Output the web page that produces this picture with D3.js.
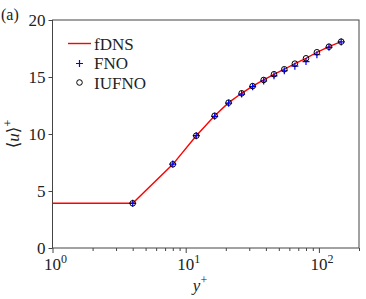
<!DOCTYPE html>
<html><head><meta charset="utf-8">
<script src="https://cdn.jsdelivr.net/npm/d3@7"></script>
<style>body{margin:0;background:#fff}svg{display:block}text{font-family:"Liberation Serif","DejaVu Serif",serif;fill:#222}</style>
</head><body><svg id="c" width="366" height="299"></svg>
<script>
const yplus = [4, 8, 12, 16.5, 21, 26.3, 31.8, 38.5, 46, 55, 66, 80, 96.6, 119, 147];
const fDNS  = [3.92, 7.34, 9.85, 11.6, 12.75, 13.57, 14.2, 14.74, 15.24, 15.68, 16.17, 16.64, 17.17, 17.66, 18.1];
const FNO   = [3.92, 7.36, 9.85, 11.55, 12.7, 13.5, 14.15, 14.65, 15.1, 15.55, 15.95, 16.35, 16.95, 17.6, 18.08];
const IUFNO = [3.92, 7.34, 9.85, 11.6, 12.75, 13.57, 14.2, 14.74, 15.24, 15.68, 16.17, 16.64, 17.17, 17.66, 18.1];
const lineX = [1].concat(yplus);
const lineY = [3.92].concat(fDNS);
const yTicks = [0, 5, 10, 15, 20];
const xMajor = [1, 10, 100];
const legendLabels = ["fDNS", "FNO", "IUFNO"];

const svg = d3.select("#c");
const L = 52.5, R = 359, T = 20, B = 248;
const x = d3.scaleLog().domain([1, 200]).range([L, R]);
const y = d3.scaleLinear().domain([0, 20]).range([B, T]);

svg.append("rect").attr("x", L).attr("y", T).attr("width", R - L).attr("height", B - T)
  .attr("fill", "none").attr("stroke", "#444").attr("stroke-width", 1);

const ya = svg.append("g").attr("transform", `translate(${L},0)`)
  .call(d3.axisLeft(y).tickValues(yTicks).tickSize(4).tickPadding(3).tickFormat(d3.format("d")));
ya.select(".domain").remove();
ya.selectAll("line").attr("stroke", "#444");
ya.selectAll("text").style("font-size", "17px").attr("fill", "#222").attr("dy", "0.35em");

const minor = [];
for (let d = 1; d <= 100; d *= 10) for (let k = 2; k <= 9; k++) if (d * k <= 200) minor.push(d * k);
const xa = svg.append("g").attr("transform", `translate(0,${B})`)
  .call(d3.axisBottom(x).tickValues(minor).tickSize(3).tickFormat(""));
xa.select(".domain").remove();
xa.selectAll("line").attr("stroke", "#444");
const xb = svg.append("g").attr("transform", `translate(0,${B})`)
  .call(d3.axisBottom(x).tickValues(xMajor).tickSize(5).tickFormat(""));
xb.select(".domain").remove();
xb.selectAll("line").attr("stroke", "#444");
xMajor.forEach(v => {
  const e = Math.round(Math.log10(v));
  const t = svg.append("text").attr("x", x(v) + 3).attr("y", B + 22).attr("text-anchor", "middle").style("font-size", "17px");
  t.append("tspan").text("10");
  t.append("tspan").attr("dy", -7).style("font-size", "12px").text(e);
});

const xl = svg.append("text").attr("x", 200).attr("y", 291).attr("text-anchor", "middle").style("font-size", "17px");
xl.append("tspan").style("font-style", "italic").text("y");
xl.append("tspan").attr("dy", -7).style("font-size", "12px").text("+");
const yl = svg.append("text").attr("transform", "translate(19,134) rotate(-90)").attr("text-anchor", "middle").style("font-size", "17px");
yl.append("tspan").text("⟨");
yl.append("tspan").style("font-style", "italic").text("u");
yl.append("tspan").text("⟩");
yl.append("tspan").attr("dy", -7).style("font-size", "12px").text("+");

svg.append("text").attr("x", 1).attr("y", 20).style("font-size", "16px").text("(a)");

svg.append("path").datum(d3.zip(lineX, lineY))
  .attr("d", d3.line().x(d => x(d[0])).y(d => y(d[1])))
  .attr("fill", "none").attr("stroke", "#ff0000").attr("stroke-width", 1.4);

const fno = d3.zip(yplus, FNO);
svg.append("g").selectAll("path").data(fno).join("path")
  .attr("d", d => `M${x(d[0]) - 3.5},${y(d[1])}H${x(d[0]) + 3.5}M${x(d[0])},${y(d[1]) - 3.5}V${y(d[1]) + 3.5}`)
  .attr("stroke", "#0000ff").attr("stroke-width", 1.2);

svg.append("g").selectAll("circle").data(d3.zip(yplus, IUFNO)).join("circle")
  .attr("cx", d => x(d[0])).attr("cy", d => y(d[1])).attr("r", 2.8)
  .attr("fill", "none").attr("stroke", "#000").attr("stroke-width", 1);

const lg = svg.append("g");
lg.append("line").attr("x1", 68).attr("x2", 91).attr("y1", 43.5).attr("y2", 43.5).attr("stroke", "#ff0000").attr("stroke-width", 1.4);
lg.append("path").attr("d", "M76,63.5H83M79.5,60V67").attr("stroke", "#0000ff").attr("stroke-width", 1.2);
lg.append("circle").attr("cx", 79.5).attr("cy", 82.5).attr("r", 2.8).attr("fill", "none").attr("stroke", "#000");
legendLabels.forEach((s, i) => {
  lg.append("text").attr("x", 94).attr("y", 49.5 + i * 19.5).style("font-size", "17px").text(s);
});
</script></body></html>
